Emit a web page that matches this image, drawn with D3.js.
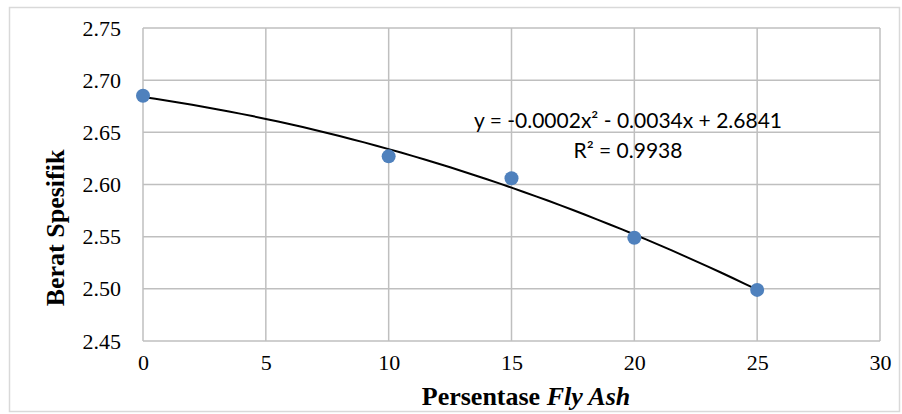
<!DOCTYPE html>
<html>
<head>
<meta charset="utf-8">
<script src="https://cdn.jsdelivr.net/npm/d3@7"></script>
<style>
  body { margin: 0; background: #fff; }
  svg { display: block; }
</style>
</head>
<body>
<div id="chart"></div>
<script>
// data
var flyAsh = [0, 10, 15, 20, 25];
var beratSpesifik = [2.685, 2.627, 2.606, 2.549, 2.499];
var xTicks = [0, 5, 10, 15, 20, 25, 30];
var yTicks = [2.45, 2.50, 2.55, 2.60, 2.65, 2.70, 2.75];
var eqLines = ['y = -0.0002x² - 0.0034x + 2.6841', 'R² = 0.9938'];

var width = 902, height = 414;
var margin = {top: 28, right: 22, bottom: 73, left: 143};

var svg = d3.select('#chart').append('svg')
    .attr('width', width)
    .attr('height', height);

// outer chart border
svg.append('rect')
    .attr('x', 9.5).attr('y', 7.5)
    .attr('width', 890).attr('height', 404)
    .attr('fill', '#fff')
    .attr('stroke', '#d9d9d9')
    .attr('stroke-width', 1.5);

var x = d3.scaleLinear().domain([0, 30]).range([margin.left, width - margin.right]);
var y = d3.scaleLinear().domain([2.45, 2.75]).range([height - margin.bottom, margin.top]);

// gridlines
var grid = svg.append('g').attr('stroke', '#bfbfbf').attr('stroke-width', 1.5);
grid.selectAll('line.v').data(xTicks).enter().append('line')
    .attr('x1', function(d) { return x(d); })
    .attr('x2', function(d) { return x(d); })
    .attr('y1', y(2.75)).attr('y2', y(2.45));
grid.selectAll('line.h').data(yTicks).enter().append('line')
    .attr('y1', function(d) { return y(d); })
    .attr('y2', function(d) { return y(d); })
    .attr('x1', x(0)).attr('x2', x(30));

// axes (labels only, lines hidden)
var xAxis = svg.append('g')
    .attr('transform', 'translate(0,' + (height - margin.bottom) + ')')
    .call(d3.axisBottom(x).tickValues(xTicks).tickSize(0).tickPadding(13).tickFormat(d3.format('d')));
var yAxis = svg.append('g')
    .attr('transform', 'translate(' + margin.left + ',0)')
    .call(d3.axisLeft(y).tickValues(yTicks).tickSize(0).tickPadding(22).tickFormat(d3.format('.2f')));
[xAxis, yAxis].forEach(function(a) {
    a.select('.domain').remove();
    a.selectAll('text')
        .attr('fill', '#000')
        .style('font-family', '"Liberation Serif", "Times New Roman", serif')
        .style('font-size', '22px');
});

// quadratic least-squares trendline
function polyFit2(xs, ys) {
    var n = xs.length, s = [0,0,0,0,0], t = [0,0,0];
    for (var i = 0; i < n; i++) {
        var p = 1;
        for (var k = 0; k < 5; k++) { s[k] += p; if (k < 3) t[k] += p * ys[i]; p *= xs[i]; }
    }
    var A = [[s[0], s[1], s[2], t[0]], [s[1], s[2], s[3], t[1]], [s[2], s[3], s[4], t[2]]];
    for (var c = 0; c < 3; c++) {
        for (var r = c + 1; r < 3; r++) {
            var f = A[r][c] / A[c][c];
            for (var j = c; j < 4; j++) A[r][j] -= f * A[c][j];
        }
    }
    var b = [0,0,0];
    for (var r2 = 2; r2 >= 0; r2--) {
        var sum = A[r2][3];
        for (var j2 = r2 + 1; j2 < 3; j2++) sum -= A[r2][j2] * b[j2];
        b[r2] = sum / A[r2][r2];
    }
    return b;
}
var coef = polyFit2(flyAsh, beratSpesifik);
var curve = d3.range(0, 25.01, 0.5).map(function(v) {
    return [v, coef[0] + coef[1] * v + coef[2] * v * v];
});
svg.append('path')
    .datum(curve)
    .attr('fill', 'none')
    .attr('stroke', '#000')
    .attr('stroke-width', 2)
    .attr('d', d3.line().x(function(d) { return x(d[0]); }).y(function(d) { return y(d[1]); }));

// points
svg.selectAll('circle').data(flyAsh).enter().append('circle')
    .attr('cx', function(d) { return x(d); })
    .attr('cy', function(d, i) { return y(beratSpesifik[i]); })
    .attr('r', 7)
    .attr('fill', '#4f81bd');

// equation label
svg.selectAll('text.eq').data(eqLines).enter().append('text')
    .attr('class', 'eq')
    .attr('x', 628)
    .attr('y', function(d, i) { return 128 + i * 30; })
    .attr('text-anchor', 'middle')
    .style('font-family', 'Lato, "Open Sans", sans-serif')
    .style('font-size', '21px')
    .text(function(d) { return d; });

// axis titles
var xt = svg.append('text')
    .attr('x', 526).attr('y', 405)
    .attr('text-anchor', 'middle')
    .style('font-family', '"Liberation Serif", "Times New Roman", serif')
    .style('font-size', '26px')
    .style('font-weight', 'bold');
xt.append('tspan').text('Persentase ');
xt.append('tspan').style('font-style', 'italic').text('Fly Ash');

svg.append('text')
    .attr('transform', 'translate(64,228) rotate(-90)')
    .attr('text-anchor', 'middle')
    .style('font-family', '"Liberation Serif", "Times New Roman", serif')
    .style('font-size', '26px')
    .style('font-weight', 'bold')
    .text('Berat Spesifik');
</script>
</body>
</html>
